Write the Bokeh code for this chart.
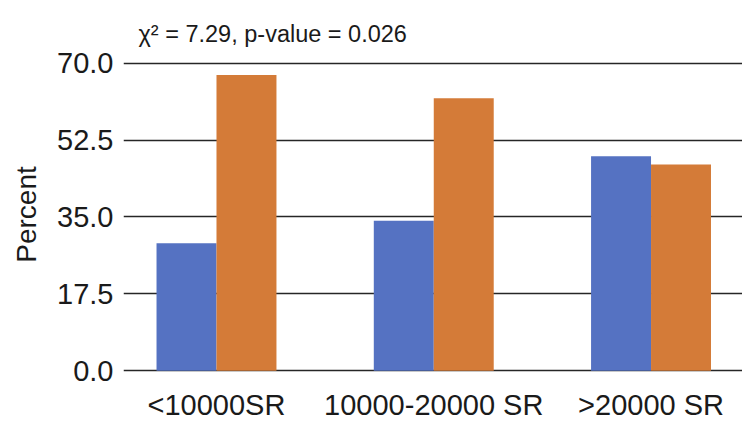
from bokeh.plotting import figure
from bokeh.models import ColumnDataSource, Range1d, FixedTicker, NumeralTickFormatter, Title
from bokeh.transform import dodge
from bokeh.embed import file_html
from bokeh.resources import INLINE

categories = ["<10000SR", "10000-20000 SR", ">20000 SR"]
series_blue = [29.0, 34.1, 48.8]
series_orange = [67.3, 62.0, 46.9]
y_ticks = [0.0, 17.5, 35.0, 52.5, 70.0]
title_text = "\u03c7\u00b2 = 7.29, p-value = 0.026"

FONT = "Liberation Sans"
TXT = "#1a1a1a"

idx = list(range(len(categories)))
src = ColumnDataSource(dict(x=idx, blue=series_blue, orange=series_orange))

p = figure(width=742, height=426, output_backend="svg", toolbar_location=None,
           x_range=Range1d(-0.428, 2.421), y_range=Range1d(-0.4, 71.5),
           min_border_left=123, min_border_right=0, min_border_top=56, min_border_bottom=54)
p.title = Title(text=title_text, align="left", offset=15, text_font=FONT,
                text_font_size="23.5px", text_font_style="normal", text_color=TXT, standoff=19)

bw = 0.276
p.vbar(x=dodge("x", -bw / 2, range=p.x_range), top="blue", bottom=0, width=bw,
       source=src, fill_color="#5572C2", line_color=None)
p.vbar(x=dodge("x", bw / 2, range=p.x_range), top="orange", bottom=0, width=bw,
       source=src, fill_color="#D47B38", line_color=None)

p.outline_line_color = None
p.background_fill_color = "white"
p.border_fill_color = "white"

p.xgrid.visible = False
p.ygrid.ticker = FixedTicker(ticks=y_ticks)
p.ygrid.grid_line_color = "#262626"
p.ygrid.grid_line_width = 1.6

p.xaxis.ticker = FixedTicker(ticks=idx)
p.xaxis.major_label_overrides = {i: c for i, c in zip(idx, categories)}
p.yaxis.ticker = FixedTicker(ticks=y_ticks)
p.yaxis.formatter = NumeralTickFormatter(format="0.0")
p.yaxis.axis_label = "Percent"

for ax in (p.xaxis[0], p.yaxis[0]):
    ax.axis_line_color = None
    ax.major_tick_line_color = None
    ax.minor_tick_line_color = None
    ax.major_tick_out = 0
    ax.major_tick_in = 0
    ax.major_label_text_font = FONT
    ax.major_label_text_color = TXT
    ax.axis_label_text_font = FONT
    ax.axis_label_text_color = TXT
    ax.axis_label_text_font_style = "normal"

p.xaxis.major_label_text_font_size = "29px"
p.xaxis.major_label_standoff = 16
p.yaxis.major_label_text_font_size = "29px"
p.yaxis.major_label_standoff = 10
p.yaxis.axis_label_text_font_size = "28px"
p.yaxis.axis_label_standoff = 12

open("out.html", "w").write(file_html(p, INLINE))
